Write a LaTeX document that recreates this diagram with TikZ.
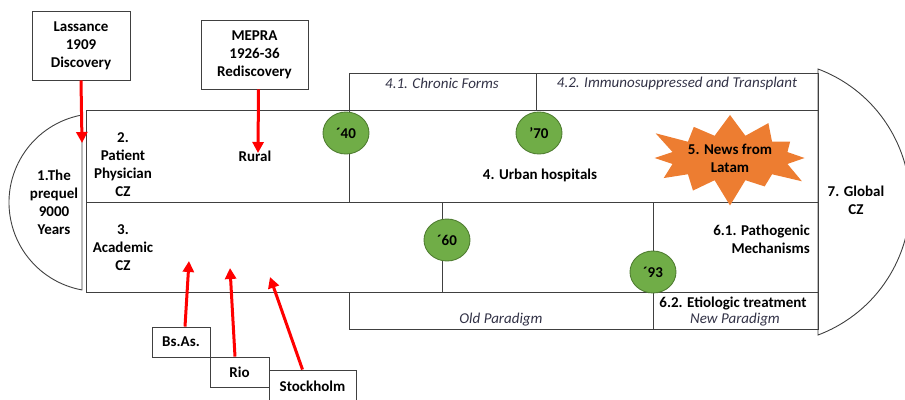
\documentclass[tikz,border=0pt]{standalone}
\usepackage{fontspec}
\setmainfont{Carlito}
\usetikzlibrary{arrows.meta,positioning,shapes.geometric,shapes.symbols}
\definecolor{lineg}{RGB}{64,64,64}
\definecolor{leafg}{RGB}{112,173,71}
\definecolor{leafd}{RGB}{80,126,50}
\definecolor{corange}{RGB}{237,125,49}
\definecolor{cred}{RGB}{255,0,0}
\definecolor{itxt}{RGB}{50,50,70}
\tikzset{
  frm/.style={draw=lineg, line width=0.9pt},
  lbl/.style={font=\bfseries\fontsize{15}{18}\selectfont, align=center, inner sep=0pt},
  itl/.style={font=\itshape\fontsize{15}{17}\selectfont, text=itxt, inner sep=0pt},
  tbox/.style={lbl, draw=lineg, line width=0.9pt, fill=white},
  dec/.style={lbl, ellipse, draw=leafd, fill=leafg, line width=0.9pt,
      minimum width=46pt, minimum height=42pt},
  rarr/.style={-{Triangle[width=11pt,length=11pt]}, cred, line width=3pt},
  burst/.style={lbl, starburst, fill=corange, starburst points=12,
      starburst point height=28pt, minimum width=172pt, minimum height=102pt},
}
\begin{document}
\begin{tikzpicture}[x=1pt, y=-1pt]
\useasboundingbox (0,0) rectangle (905,399);
%---- half discs at both ends
\draw[frm] (82,115) arc[start angle=259.7, end angle=100.3, radius=88.9] -- cycle;
\draw[frm] (818,69) arc[start angle=-69.4, end angle=69.4, radius=142.1] -- cycle;
%---- main frame and bands
\draw[frm] (86,110) rectangle (818,292);
\draw[frm] (86,202) -- (818,202);
\draw[frm] (349,73) rectangle (818,110);
\draw[frm] (536,73) -- (536,110);
\draw[frm] (349,110) -- (349,202);
\draw[frm] (442,202) -- (442,292);
\draw[frm] (349,292) rectangle (818,329);
\draw[frm] (653,202) -- (653,329);
%---- stage labels
\node[lbl] (prequel) at (54,202) {1.The\\prequel\\9000\\Years};
\node[lbl] (patient) at (123,165) {2.\\Patient\\Physician\\CZ};
\node[lbl] (rural) at (255,156) {Rural};
\node[lbl] (academic) at (123,248) {3.\\Academic\\CZ};
\node[lbl] (urban) at (540,175) {4. Urban hospitals};
\node[itl] (chronic) at (442,83) {4.1. Chronic Forms};
\node[itl] (immuno) at (677,83) {4.2. Immunosuppressed and Transplant};
\node[lbl, anchor=east, align=right] (pathog) at (810,239) {6.1. Pathogenic\\Mechanisms};
\node[lbl] (etiol) at (733,303) {6.2. Etiologic treatment};
\node[itl] (newpar) at (735,320) {New Paradigm};
\node[itl] (oldpar) at (501,320) {Old Paradigm};
\node[lbl] (global) at (856,200) {7. Global\\CZ};
%---- news burst and decades
\node[burst] (news) at (730,158) {5. News from\\Latam};
\node[dec] (d40) at (346,133) {´40};
\node[dec] (d70) at (539,133) {’70};
\node[dec] (d60) at (447,240) {´60};
\node[dec] (d93) at (653,272) {´93};
%---- milestone boxes
\node[tbox, minimum width=98pt, minimum height=69pt] (lass) at (81,45.5) {Lassance\\1909\\Discovery};
\node[tbox, minimum width=107pt, minimum height=69pt] (mepra) at (254.5,54.5) {MEPRA\\1926-36\\Rediscovery};
\node[tbox, minimum width=58pt, minimum height=30pt] (bsas) at (181,342) {Bs.As.};
\node[tbox, minimum width=59pt, minimum height=30pt] (rio) at (239.5,372) {Rio};
\node[tbox, minimum width=87pt, minimum height=32pt] (stock) at (312.5,386) {Stockholm};
%---- arrows
\coordinate (lassT) at (82,143);
\coordinate (mepraT) at (258,153);
\coordinate (bsasT) at (189,261);
\coordinate (rioT) at (230,268);
\coordinate (stockT) at (270,277);
\draw[rarr] (lass.south) -- (lassT);
\draw[rarr] ([xshift=4pt]mepra.south) -- (mepraT);
\draw[rarr] ([xshift=4pt]bsas.north) -- (bsasT);
\draw[rarr] ([xshift=-4.5pt]rio.north) -- (rioT);
\draw[rarr] ([xshift=-10pt]stock.north) -- (stockT);
\end{tikzpicture}
\end{document}
